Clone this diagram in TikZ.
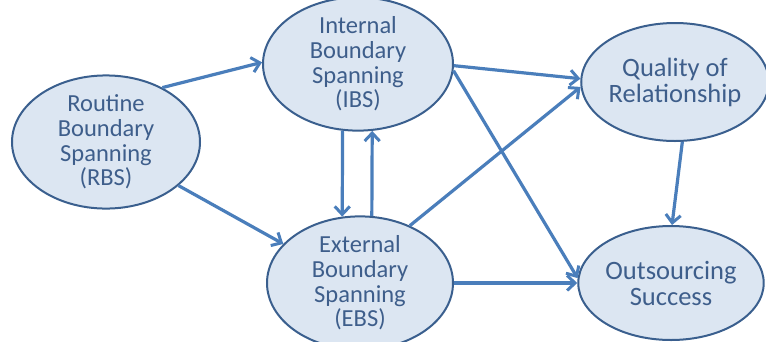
\documentclass[tikz,border=0pt]{standalone}
\usepackage{fontspec}
\setmainfont{Carlito}
\usetikzlibrary{shapes.geometric,arrows.meta}
\definecolor{bubblefill}{HTML}{DCE6F2}
\definecolor{bubbleline}{HTML}{3A5F8E}
\definecolor{linkblue}{HTML}{4A7EBB}
\definecolor{labeltext}{HTML}{3E5E8B}
\tikzset{
  bubble/.style={ellipse, draw=bubbleline, line width=2pt, fill=bubblefill,
    text=labeltext, align=center, inner sep=0pt},
  smalltext/.style={font=\fontsize{24.5}{24.6}\selectfont},
  bigtext/.style={font=\fontsize{26.5}{26}\selectfont},
  link/.style={draw=linkblue, line width=3.2pt,
    -{Straight Barb[length=8pt,width=15pt,line width=3pt]}}
}
\begin{document}
\begin{tikzpicture}[x=1pt,y=-1pt]
\useasboundingbox (0,0) rectangle (766,341);
% constructs
\node[bubble, smalltext, minimum width=188pt, minimum height=116pt] (rbs) at (106,142)
  {Routine\\Boundary\\Spanning\\(RBS)};
\node[bubble, smalltext, minimum width=190pt, minimum height=112pt] (ibs) at (358,64)
  {Internal\\Boundary\\Spanning\\(IBS)};
\node[bubble, smalltext, minimum width=186pt, minimum height=114pt] (ebs) at (360,283)
  {External\\Boundary\\Spanning\\(EBS)};
\node[bubble, bigtext, minimum width=178pt, minimum height=118pt] (qual) at (675,82)
  {Quality of\\Relationship};
\node[bubble, bigtext, minimum width=184pt, minimum height=114pt] (out) at (671,283)
  {Outsourcing\\Success};
% paths
\draw[link] (rbs.44) -- (ibs.179);
\draw[link] (rbs.-31) -- (ebs.153);
\draw[link] (ibs.-103) -- (ebs.105);
\draw[link] (ebs.80) -- (ibs.-78);
\draw[link] (ibs.-1) -- (qual.178);
\draw[link] (ibs.-4) -- (out.177);
\draw[link] (ebs.49) -- (qual.183);
\draw[link] (ebs.0) -- (out.180);
\draw[link] (qual.-83) -- (out.89);
\end{tikzpicture}
\end{document}
